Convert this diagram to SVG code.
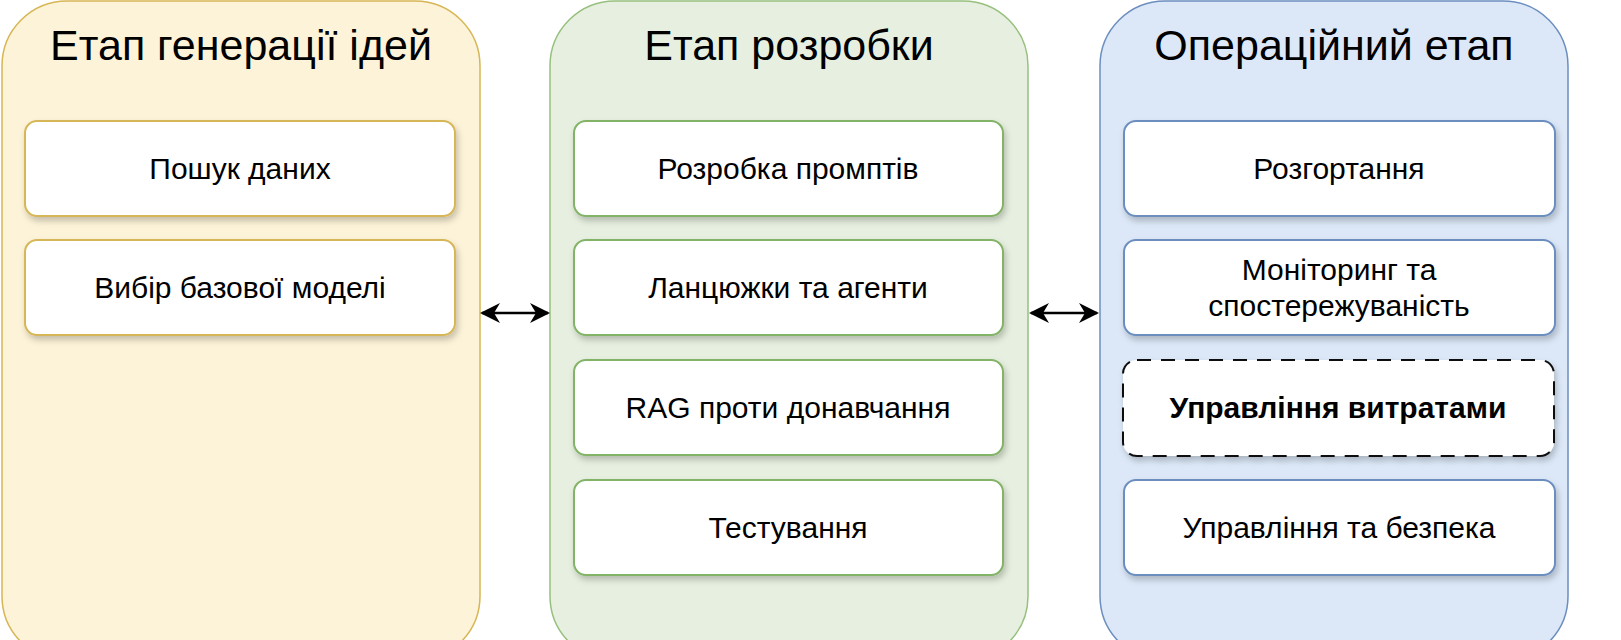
<svg xmlns="http://www.w3.org/2000/svg" width="1621" height="640" viewBox="0 0 1621 640">
<defs>
<filter id="sh" x="-10%" y="-20%" width="120%" height="150%"><feDropShadow dx="2" dy="4" stdDeviation="3" flood-color="#000" flood-opacity="0.22"/></filter>
<marker id="ah" viewBox="0 0 10 10" refX="9" refY="5" markerWidth="8" markerHeight="8" orient="auto-start-reverse"><path d="M0,0 L10,5 L0,10 L3,5 z" fill="#000"/></marker>
<style>
text{font-family:"Liberation Sans",Arial,sans-serif;text-anchor:middle;fill:#000}
.t{font-size:43px}.b{font-size:30px}.bb{font-size:30px;font-weight:bold}
.box{fill:#fff;filter:url(#sh);stroke-width:2}
</style>
</defs>
<rect width="1621" height="640" fill="#fff"/>
<g id="p1"><rect x="2" y="1" width="478" height="660" rx="65" fill="#fdf3d8" stroke="#d6b656" stroke-width="1.5"/><text class="t" x="241" y="60">Етап генерації ідей</text></g>
<g id="p2"><rect x="550" y="1" width="478" height="660" rx="65" fill="#e7f0e0" stroke="#97c07f" stroke-width="1.5"/><text class="t" x="789" y="60">Етап розробки</text></g>
<g id="p3"><rect x="1100" y="1" width="468" height="660" rx="65" fill="#dce8f8" stroke="#6c8ebf" stroke-width="1.5"/><text class="t" x="1334" y="60">Операційний етап</text></g>
<g id="n1"><rect class="box" x="25" y="121" width="430" height="95" rx="12" stroke="#d6b656"/><text class="b" x="240" y="179">Пошук даних</text></g>
<g id="n2"><rect class="box" x="25" y="240" width="430" height="95" rx="12" stroke="#d6b656"/><text class="b" x="240" y="298">Вибір базової моделі</text></g>
<g id="n3"><rect class="box" x="574" y="121" width="429" height="95" rx="12" stroke="#82b366"/><text class="b" x="788" y="179">Розробка промптів</text></g>
<g id="n4"><rect class="box" x="574" y="240" width="429" height="95" rx="12" stroke="#82b366"/><text class="b" x="788" y="298">Ланцюжки та агенти</text></g>
<g id="n5"><rect class="box" x="574" y="360" width="429" height="95" rx="12" stroke="#82b366"/><text class="b" x="788" y="418">RAG проти донавчання</text></g>
<g id="n6"><rect class="box" x="574" y="480" width="429" height="95" rx="12" stroke="#82b366"/><text class="b" x="788" y="538">Тестування</text></g>
<g id="n7"><rect class="box" x="1124" y="121" width="431" height="95" rx="12" stroke="#6c8ebf"/><text class="b" x="1339" y="179">Розгортання</text></g>
<g id="n8"><rect class="box" x="1124" y="240" width="431" height="95" rx="12" stroke="#6c8ebf"/><text class="b" x="1339" y="280">Моніторинг та</text><text class="b" x="1339" y="316">спостережуваність</text></g>
<g id="n9"><rect class="box" x="1123" y="360" width="431" height="96" rx="14" stroke="#111" stroke-width="4" stroke-dasharray="14 10"/><text class="bb" x="1338" y="418">Управління витратами</text></g>
<g id="n10"><rect class="box" x="1124" y="480" width="431" height="95" rx="12" stroke="#6c8ebf"/><text class="b" x="1339" y="538">Управління та безпека</text></g>
<g id="edges" stroke="#000" stroke-width="2.5" fill="none">
<line x1="482" y1="313" x2="548" y2="313" marker-start="url(#ah)" marker-end="url(#ah)"/>
<line x1="1031" y1="313" x2="1097" y2="313" marker-start="url(#ah)" marker-end="url(#ah)"/>
</g>
</svg>
